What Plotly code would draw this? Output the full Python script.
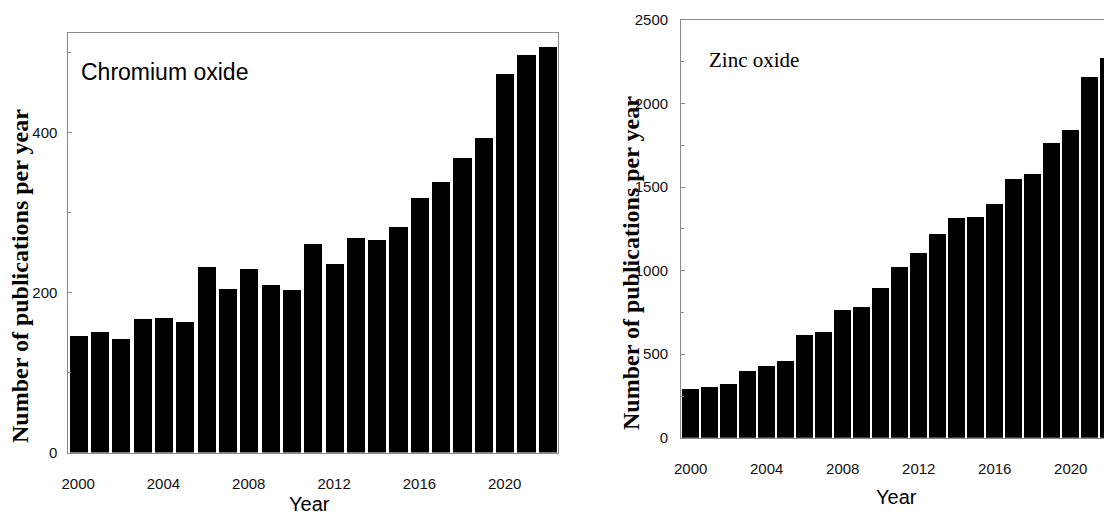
import plotly.graph_objects as go

years = list(range(2000, 2023))
chromium = [146, 151, 142, 167, 168, 164, 232, 205, 230, 210, 204, 261, 236,
            269, 266, 283, 319, 339, 369, 394, 474, 497, 507]
zinc = [290, 302, 324, 400, 428, 458, 618, 632, 762, 784, 894, 1024, 1104,
        1220, 1316, 1324, 1400, 1548, 1578, 1762, 1844, 2160, 2270]
year_ticks = [2000, 2004, 2008, 2012, 2016, 2020]

# the page body has an 8px margin, so the figure is placed at (8, 8);
# keep the page from overflowing vertically
OFF = 8
W, H = 1112 - OFF, 525 - 2 * OFF
SANS = "Liberation Sans, Arial, sans-serif"
SERIF = "Liberation Serif, Times New Roman, serif"
FRAME = "#8a8a8a"

def px_x(p):
    return (p - OFF) / W

def px_y(p):
    return 1 - (p - OFF) / H

fig = go.Figure()
fig.add_trace(go.Bar(x=years, y=chromium, width=0.85, marker_color="black",
                     marker_line_width=0, xaxis="x", yaxis="y", showlegend=False))
fig.add_trace(go.Bar(x=years, y=zinc, width=0.85, marker_color="black",
                     marker_line_width=0, xaxis="x2", yaxis="y2", showlegend=False))

tickfont = dict(family=SANS, size=15, color="#111")

fig.update_layout(
    width=W, height=H,
    margin=dict(l=0, r=0, t=0, b=0),
    paper_bgcolor="white", plot_bgcolor="white",
    bargap=0,
    xaxis=dict(domain=[px_x(67.5), px_x(558)], range=[1999.5, 2022.5],
               tickvals=year_ticks, ticks="", showgrid=False, zeroline=False,
               showline=True, linecolor=FRAME, linewidth=1.2, mirror=True,
               tickfont=tickfont, ticklabelstandoff=17, anchor="y",
               automargin=False),
    yaxis=dict(domain=[px_y(452.5), px_y(32.7)], range=[0, 525],
               tickvals=[0, 200, 400], ticks="inside", ticklen=4, tickcolor=FRAME,
               minor=dict(tickvals=[100, 300, 500], ticks="inside", ticklen=3,
                          tickcolor=FRAME),
               showgrid=False, zeroline=False, showline=True, linecolor=FRAME,
               linewidth=1.2, mirror=True, tickfont=tickfont,
               ticklabelstandoff=6, anchor="x", automargin=False),
    xaxis2=dict(domain=[px_x(681.2), 1.0], range=[1999.5, 2022.17],
                tickvals=year_ticks, ticks="", showgrid=False, zeroline=False,
                showline=True, linecolor=FRAME, linewidth=1.2, mirror=True,
                tickfont=tickfont, ticklabelstandoff=17, anchor="y2",
                automargin=False),
    yaxis2=dict(domain=[px_y(437.8), px_y(20)], range=[0, 2500],
                tickvals=[0, 500, 1000, 1500, 2000, 2500], ticks="inside",
                ticklen=4, tickcolor=FRAME,
                minor=dict(tickvals=[250, 750, 1250, 1750, 2250], ticks="inside",
                           ticklen=3, tickcolor=FRAME),
                showgrid=False, zeroline=False, showline=True, linecolor=FRAME,
                linewidth=1.2, mirror=False, tickfont=tickfont,
                ticklabelstandoff=9, anchor="x2", automargin=False),
)

ann = [
    dict(text="Chromium oxide", x=px_x(79), y=px_y(72), xanchor="left",
         yanchor="middle", font=dict(family=SANS, size=23, color="black")),
    dict(text="Zinc oxide", x=px_x(707), y=px_y(60), xanchor="left",
         yanchor="middle", font=dict(family=SERIF, size=21, color="black")),
    dict(text="<b>Number of publications per year</b>", x=px_x(20), y=px_y(276),
         textangle=-90, xanchor="center", yanchor="middle",
         font=dict(family=SERIF, size=24, color="black")),
    dict(text="<b>Number of publications per year</b>", x=px_x(631), y=px_y(263),
         textangle=-90, xanchor="center", yanchor="middle",
         font=dict(family=SERIF, size=24, color="black")),
    dict(text="Year", x=px_x(309), y=px_y(504), xanchor="center",
         yanchor="middle", font=dict(family=SANS, size=20, color="black")),
    dict(text="Year", x=px_x(896), y=px_y(497), xanchor="center",
         yanchor="middle", font=dict(family=SANS, size=20, color="black")),
]
for a in ann:
    a.update(xref="paper", yref="paper", showarrow=False)
fig.update_layout(annotations=ann)

fig.write_html("out.html")
